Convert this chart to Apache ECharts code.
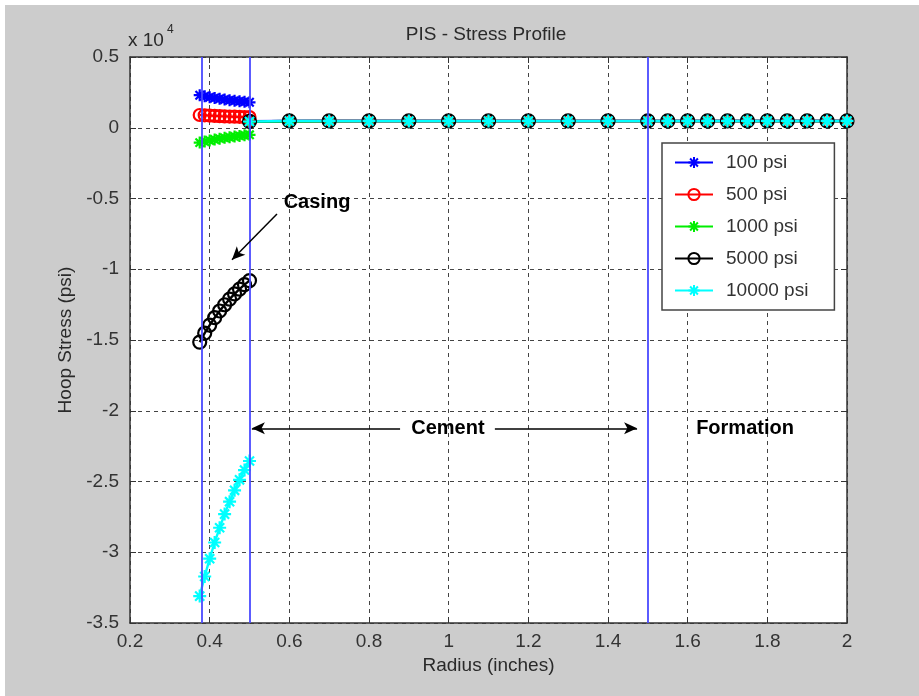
<!DOCTYPE html>
<html><head><meta charset="utf-8">
<script src="https://cdn.jsdelivr.net/npm/echarts@6/dist/echarts.min.js"></script>
<style>
html,body{margin:0;padding:0;background:#fff;}
#bg{position:absolute;left:5px;top:5px;width:914px;height:691px;background:#cccccc;}
#main{position:absolute;left:0;top:0;width:919px;height:696px;}
</style></head><body>
<div id="bg"></div><div id="main"></div>
<script>
// ---------- data ----------
const seriesNames = ['100 psi', '500 psi', '1000 psi', '5000 psi', '10000 psi'];
const casingR = [0.375, 0.3875, 0.4, 0.4125, 0.425, 0.4375, 0.45, 0.4625, 0.475, 0.4875, 0.5];
const cementR = [0.5, 0.6, 0.7, 0.8, 0.9, 1.0, 1.1, 1.2, 1.3, 1.4, 1.5, 1.55, 1.6, 1.65, 1.7, 1.75, 1.8, 1.85, 1.9, 1.95, 2.0];

const casing100   = [2300, 2230, 2160, 2100, 2050, 2000, 1950, 1910, 1870, 1835, 1800];
const casing500   = [900, 880, 860, 840, 820, 805, 790, 780, 770, 760, 750];
const casing1000  = [-1050, -970, -895, -830, -770, -715, -665, -620, -575, -535, -500];
const casing5000  = [-15150, -14520, -13945, -13425, -12950, -12510, -12110, -11745, -11405, -11090, -10800];
const casing10000 = [-33100, -31715, -30455, -29310, -28270, -27305, -26425, -25625, -24880, -24190, -23550];

const cement100   = [470, 480, 480, 480, 480, 480, 480, 480, 480, 480, 480, 480, 480, 480, 480, 480, 480, 480, 480, 480, 480];
const cement500   = [470, 470, 475, 475, 475, 475, 475, 475, 475, 475, 475, 475, 475, 475, 475, 475, 475, 475, 475, 475, 475];
const cement1000  = [420, 440, 460, 470, 470, 470, 470, 470, 470, 470, 470, 470, 470, 470, 470, 470, 470, 470, 470, 470, 470];
const cement5000  = [450, 480, 480, 480, 480, 480, 480, 480, 480, 480, 480, 480, 480, 480, 480, 480, 480, 480, 480, 480, 480];
const cement10000 = [440, 480, 480, 480, 480, 480, 480, 480, 480, 480, 480, 480, 480, 480, 480, 480, 480, 480, 480, 480, 480];

const xTickLabels = ['0.2', '0.4', '0.6', '0.8', '1', '1.2', '1.4', '1.6', '1.8', '2'];
const yTickLabels = ['-3.5', '-3', '-2.5', '-2', '-1.5', '-1', '-0.5', '0', '0.5'];
const boundaryR = [0.375, 0.5, 1.5];

const casingArrow = [[0.569, -6100], [0.456, -9330]];
const cementArrowLeft = [[0.878, -21240], [0.506, -21240]];
const cementArrowRight = [[1.116, -21240], [1.473, -21240]];
const annotTexts = ['Casing', 'Cement', 'Formation'];
const annotAt = [[0.6695, -5284], [0.998, -21240], [1.744, -21240]];

// ---------- chart ----------
const FONT = 'Liberation Sans, Arial, Helvetica, sans-serif';
const STAR = 'path://M5,0L5,10M0,5L10,5M1.5,1.5L8.5,8.5M1.5,8.5L8.5,1.5';
const RING = 'path://M10,5A5,5,0,1,1,0,5A5,5,0,1,1,10,5Z';

function buildData(casingVals, cementVals) {
  return casingR.map((r, i) => [r, casingVals[i]])
    .concat([[0.5, '-']])
    .concat(cementR.map((r, i) => [r, cementVals[i]]));
}
function mk(name, color, symbol, size, casingVals, cementVals) {
  return {
    name: name, type: 'line', data: buildData(casingVals, cementVals),
    symbol: symbol, symbolSize: size, showAllSymbol: true, connectNulls: false,
    lineStyle: { color: color, width: 2.4 },
    itemStyle: { color: symbol === RING ? 'rgba(0,0,0,0)' : color, borderColor: color, borderWidth: 2.2 },
    emphasis: { disabled: true }, silent: true, z: 3, animation: false
  };
}

const chart = echarts.init(document.getElementById('main'), null, { renderer: 'canvas' });
const yMin = -35000, yMax = 5000, yStep = 5000;
const xMin = 0.2, xMax = 2.0, xStep = 0.2;

const option = {
  backgroundColor: 'transparent',
  animation: false,
  textStyle: { fontFamily: FONT },
  title: {
    text: 'PIS - Stress Profile', left: 486, textAlign: 'center', top: 25, padding: 0,
    textStyle: { fontFamily: FONT, fontSize: 19, fontWeight: 'normal', color: '#2a2a2a' }
  },
  grid: { left: 130, right: 72, top: 57, bottom: 73, show: true, backgroundColor: '#fff', borderWidth: 0, containLabel: false, outerBoundsMode: 'none' },
  legend: {
    data: seriesNames, orient: 'vertical', left: 662, top: 143,
    padding: [10, 26, 10, 12], itemWidth: 38, itemHeight: 14, itemGap: 13,
    backgroundColor: '#fff', borderColor: '#444', borderWidth: 1.5, borderRadius: 0,
    textStyle: { fontFamily: FONT, fontSize: 19, color: '#333', padding: [0, 0, 0, 8] },
    selectedMode: false
  },
  xAxis: [{
    type: 'value', min: xMin, max: xMax, interval: xStep,
    name: 'Radius (inches)', nameLocation: 'middle', nameGap: 33,
    nameTextStyle: { fontFamily: FONT, fontSize: 19, color: '#2a2a2a' },
    axisLine: { show: true, onZero: false, lineStyle: { color: '#333', width: 1.5 } },
    axisTick: { show: true, inside: true, length: 6, lineStyle: { color: '#333' } },
    axisLabel: { margin: 9, fontSize: 19, color: '#333', fontFamily: FONT,
      formatter: v => xTickLabels[Math.round((v - xMin) / xStep)] },
    splitLine: { show: true, lineStyle: { color: '#444', type: [4, 4], width: 1 } }
  }, {
    type: 'value', position: 'top', min: xMin, max: xMax, interval: xStep,
    axisLine: { show: true, onZero: false, lineStyle: { color: '#333', width: 1.5 } },
    axisTick: { show: true, inside: true, length: 6, lineStyle: { color: '#333' } },
    axisLabel: { show: false }, splitLine: { show: false }
  }],
  yAxis: [{
    type: 'value', min: yMin, max: yMax, interval: yStep,
    name: 'Hoop Stress (psi)', nameLocation: 'middle', nameGap: 53,
    nameTextStyle: { fontFamily: FONT, fontSize: 19, color: '#2a2a2a' },
    axisLine: { show: true, onZero: false, lineStyle: { color: '#333', width: 1.5 } },
    axisTick: { show: true, inside: true, length: 6, lineStyle: { color: '#333' } },
    axisLabel: { margin: 11, fontSize: 19, color: '#333', fontFamily: FONT,
      formatter: v => yTickLabels[Math.round((v - yMin) / yStep)] },
    splitLine: { show: true, lineStyle: { color: '#444', type: [4, 4], width: 1 } }
  }, {
    type: 'value', position: 'right', min: yMin, max: yMax, interval: yStep,
    axisLine: { show: true, onZero: false, lineStyle: { color: '#333', width: 1.5 } },
    axisTick: { show: true, inside: true, length: 6, lineStyle: { color: '#333' } },
    axisLabel: { show: false }, splitLine: { show: false }
  }],
  series: [
    {
      name: 'boundaries', type: 'line', data: [], z: 1, silent: true,
      markLine: {
        silent: true, symbol: ['none', 'none'], animation: false,
        label: { show: false },
        lineStyle: { color: '#4a4aff', width: 1.8, type: 'solid' },
        data: boundaryR.map(r => ({ xAxis: r }))
      }
    },
    mk(seriesNames[0], '#0000ff', STAR, 12, casing100, cement100),
    mk(seriesNames[1], '#ff0000', RING, 12, casing500, cement500),
    mk(seriesNames[2], '#00ee00', STAR, 12, casing1000, cement1000),
    mk(seriesNames[3], '#000000', RING, 13, casing5000, cement5000),
    mk(seriesNames[4], '#00ffff', STAR, 13, casing10000, cement10000),
    {
      name: 'arrows', type: 'line', data: [], z: 5, silent: true,
      markLine: {
        silent: true, symbol: ['none', 'arrow'], symbolSize: [9, 13], animation: false,
        label: { show: false },
        lineStyle: { color: '#000', width: 1.5, type: 'solid' },
        data: [casingArrow, cementArrowLeft, cementArrowRight].map(a => [{ coord: a[0] }, { coord: a[1] }])
      }
    }
  ]
};
chart.setOption(option);

const g = [
  { type: 'text', left: 128, top: 31, style: { text: 'x 10', fontFamily: FONT, fontSize: 19, fill: '#2a2a2a' } },
  { type: 'text', left: 167, top: 24, style: { text: '4', fontFamily: FONT, fontSize: 12, fill: '#2a2a2a' } }
];
annotTexts.forEach((t, i) => {
  const p = chart.convertToPixel({ gridIndex: 0 }, annotAt[i]);
  g.push({ type: 'text', x: p[0], y: p[1], z: 10,
    style: { text: t, fontFamily: FONT, fontSize: 20, fontWeight: 'bold', fill: '#000', align: 'center', verticalAlign: 'middle' } });
});
chart.setOption({ graphic: g });
</script>
</body></html>
